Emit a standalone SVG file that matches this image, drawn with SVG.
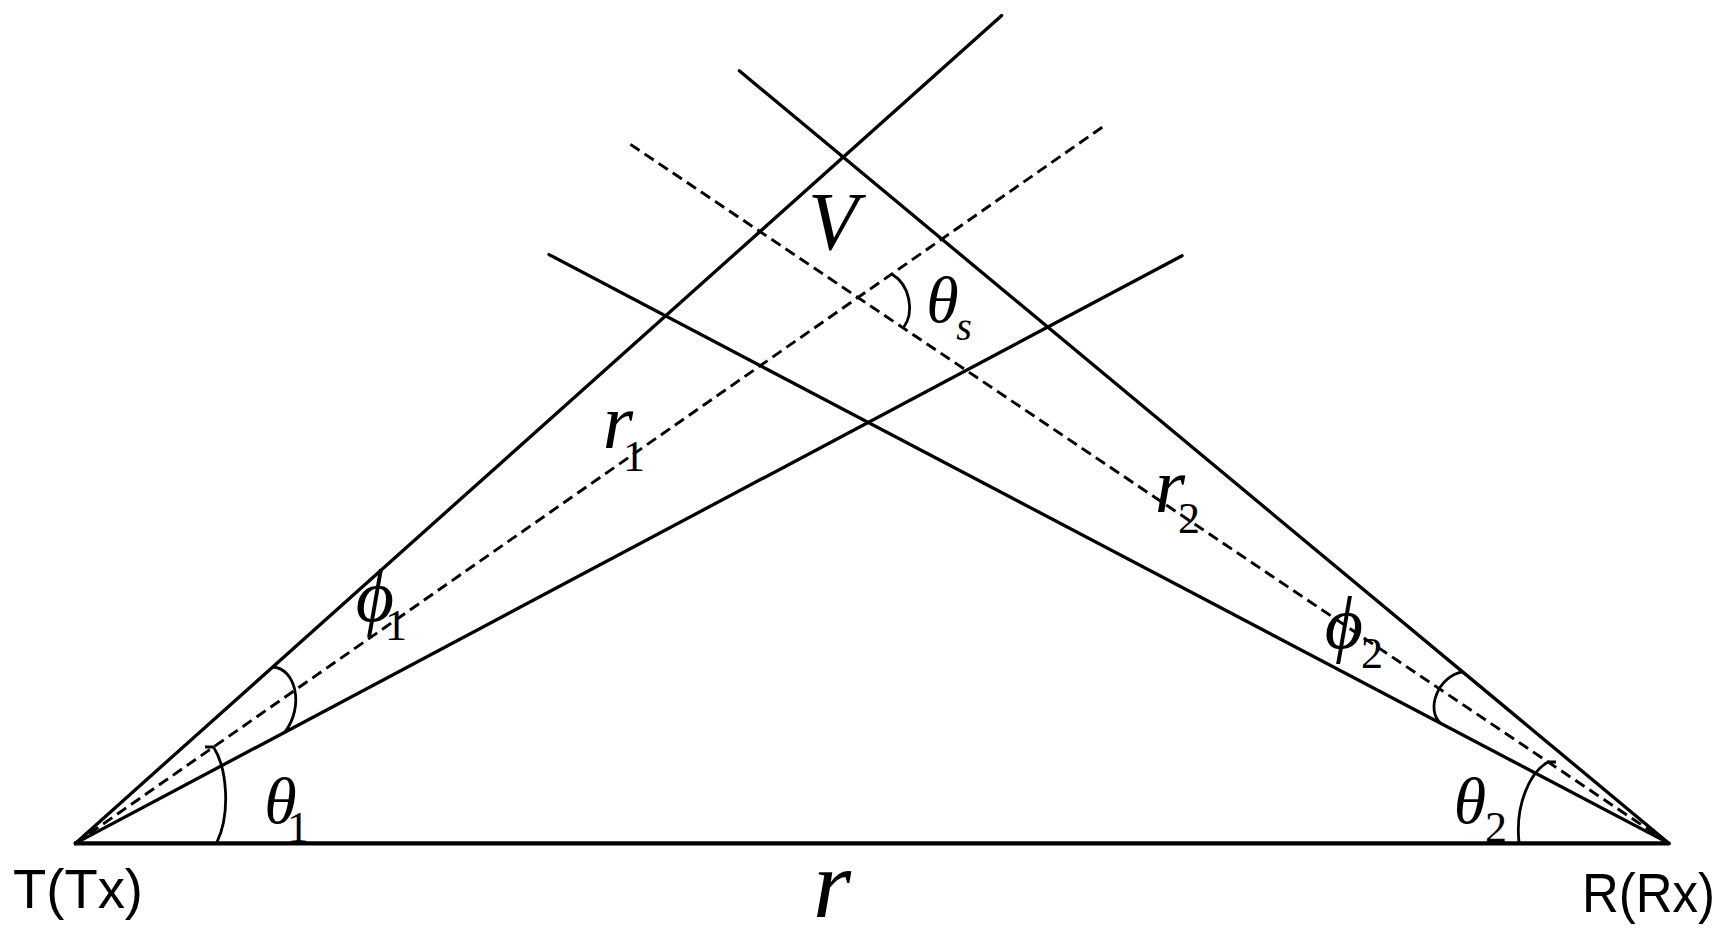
<svg xmlns="http://www.w3.org/2000/svg" width="1730" height="939" viewBox="0 0 1730 939">
<style>
.ln{stroke:#000;stroke-width:3.3;fill:none;stroke-linecap:round}
.base{stroke:#000;stroke-width:4.2;fill:none}
.dash{stroke:#000;stroke-width:2.9;fill:none;stroke-dasharray:11 6}
.arc{stroke:#000;stroke-width:2.8;fill:none}
.sym{font-family:"Liberation Serif","Times New Roman",serif;font-style:italic;fill:#000;text-anchor:middle}
.sub{font-family:"Liberation Serif","Times New Roman",serif;fill:#000;text-anchor:middle;font-size:44px}
.lbl{font-family:"Liberation Sans",Arial,sans-serif;fill:#000;font-size:55px}
</style>
<rect width="1730" height="939" fill="#fff"/>
<g id="connectors">
<line class="base" x1="74" y1="843.4" x2="1669" y2="843.4"/>
<line class="ln" x1="75.3" y1="843.4" x2="1001.7" y2="15.5"/>
<line class="ln" x1="75.3" y1="843.4" x2="1182.1" y2="255.7"/>
<line class="dash" x1="75.3" y1="843.4" x2="1106.8" y2="124"/>
<line class="ln" x1="1669.1" y1="843.4" x2="739.3" y2="70.8"/>
<line class="ln" x1="1669.1" y1="843.4" x2="549" y2="254.6"/>
<line class="dash" x1="1669.1" y1="843.4" x2="626.5" y2="141.7"/>
</g>
<g id="angle-theta1">
<path class="arc" d="M205,747 L213.5,747 C228,770 230,815 217,842"/>
<text class="sym" x="280.5" y="823" font-size="66">θ</text>
<text class="sub" x="298" y="842">1</text>
</g>
<g id="angle-phi1">
<path class="arc" d="M272.6,667 C295,668 305,705 285,732"/>
<text class="sym" x="375" y="621" font-size="74">ϕ</text>
<text class="sub" x="396" y="640">1</text>
</g>
<g id="angle-theta2">
<path class="arc" d="M1556,762 L1548,762 C1530,772 1515,805 1519,842"/>
<text class="sym" x="1470" y="823" font-size="66">θ</text>
<text class="sub" x="1496" y="842">2</text>
</g>
<g id="angle-phi2">
<path class="arc" d="M1462.7,671.9 C1438,676 1425,710 1441,723.5"/>
<text class="sym" x="1344" y="648" font-size="74">ϕ</text>
<text class="sub" x="1372" y="668">2</text>
</g>
<g id="angle-thetas">
<path class="arc" d="M891.7,274 C910,285 915,312 903.3,328"/>
<text class="sym" x="942.5" y="322" font-size="66">θ</text>
<text class="sym" x="964" y="340" font-size="40">s</text>
</g>
<g id="label-V">
<text class="sym" x="833" y="249" font-size="82">V</text>
</g>
<g id="label-r1">
<text class="sym" x="618" y="448" font-size="78">r</text>
<text class="sub" x="634" y="471">1</text>
</g>
<g id="label-r2">
<text class="sym" x="1170" y="512" font-size="78">r</text>
<text class="sub" x="1189" y="533">2</text>
</g>
<g id="label-r">
<text class="sym" x="832" y="917" font-size="98">r</text>
</g>
<g id="node-T">
<text class="lbl" x="13" y="908" textLength="130" lengthAdjust="spacingAndGlyphs">T(Tx)</text>
</g>
<g id="node-R">
<text class="lbl" x="1582" y="912" textLength="133" lengthAdjust="spacingAndGlyphs">R(Rx)</text>
</g>
</svg>
